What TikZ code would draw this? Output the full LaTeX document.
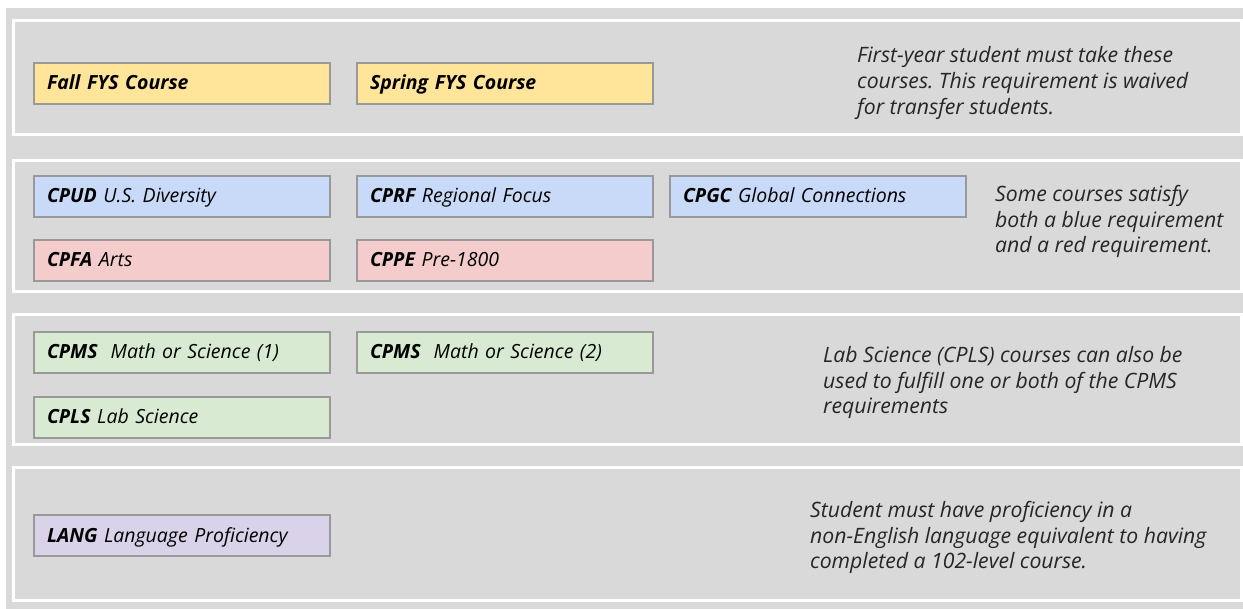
\documentclass[tikz,border=0pt]{standalone}
\usepackage{fontspec}
\setmainfont{Open Sans}
\frenchspacing
\begin{document}
\begin{tikzpicture}[x=1pt,y=-1pt,
  panel/.style={draw=white,line width=3pt,fill=none},
  course/.style={draw=boxedge,line width=2pt,anchor=north west,
    minimum width=296pt,minimum height=41pt,inner xsep=13pt,inner ysep=0pt,
    text width=270pt,align=left,text height=17.5pt,text depth=4.5pt,
    font=\itshape\fontsize{19.5}{22}\selectfont},
  note/.style={anchor=west,inner sep=0pt,align=left,
    font=\itshape\fontsize{21.2}{25.6}\selectfont,text=black!85}]
\definecolor{bggray}{HTML}{D9D9D9}
\definecolor{boxedge}{HTML}{999999}
\definecolor{fysyellow}{HTML}{FFE599}
\definecolor{cpblue}{HTML}{C9DAF8}
\definecolor{cpred}{HTML}{F4CCCC}
\definecolor{cpgreen}{HTML}{D9EAD3}
\definecolor{cppurple}{HTML}{D9D2E9}
\useasboundingbox (0,0) rectangle (1243,609);
% background
\fill[bggray] (6,8) rectangle (1243,609);
% section frames
\draw[panel] (13.5,21) rectangle (1241.5,134.5);
\draw[panel] (13.5,161) rectangle (1241.5,291.5);
\draw[panel] (13.5,314.5) rectangle (1241.5,444.5);
\draw[panel] (13.5,467.5) rectangle (1241.5,600.5);
% first-year seminar
\node[course,fill=fysyellow] (fall) at (33,62) {\textbf{Fall FYS Course}};
\node[course,fill=fysyellow] (spring) at (356,62) {\textbf{Spring FYS Course}};
\node[note] (fysnote) at (857,83) {First-year student must take these\\courses. This requirement is waived\\for transfer students.};
% perspectives
\node[course,fill=cpblue] (cpud) at (33,175) {\textbf{CPUD} U.S. Diversity};
\node[course,fill=cpblue] (cprf) at (356,175) {\textbf{CPRF} Regional Focus};
\node[course,fill=cpblue] (cpgc) at (669,175) {\textbf{CPGC} Global Connections};
\node[course,fill=cpred] (cpfa) at (33,239) {\textbf{CPFA} Arts};
\node[course,fill=cpred] (cppe) at (356,239) {\textbf{CPPE} Pre-1800};
\node[note] (cpnote) at (995,221.5) {Some courses satisfy\\both a blue requirement\\and a red requirement.};
% math and science
\node[course,fill=cpgreen] (cpms1) at (33,331) {\textbf{CPMS}\ \ Math or Science (1)};
\node[course,fill=cpgreen] (cpms2) at (356,331) {\textbf{CPMS}\ \ Math or Science (2)};
\node[course,fill=cpgreen] (cpls) at (33,396) {\textbf{CPLS} Lab Science};
\node[note] (msnote) at (823,382.5) {Lab Science (CPLS) courses can also be\\used to fulfill one or both of the CPMS\\requirements};
% language
\node[course,fill=cppurple] (lang) at (33,514) {\textbf{LANG} Language Proficiency};
\node[note] (langnote) at (810,537.5) {Student must have proficiency in a\\non-English language equivalent to having\\completed a 102-level course.};
\end{tikzpicture}
\end{document}
